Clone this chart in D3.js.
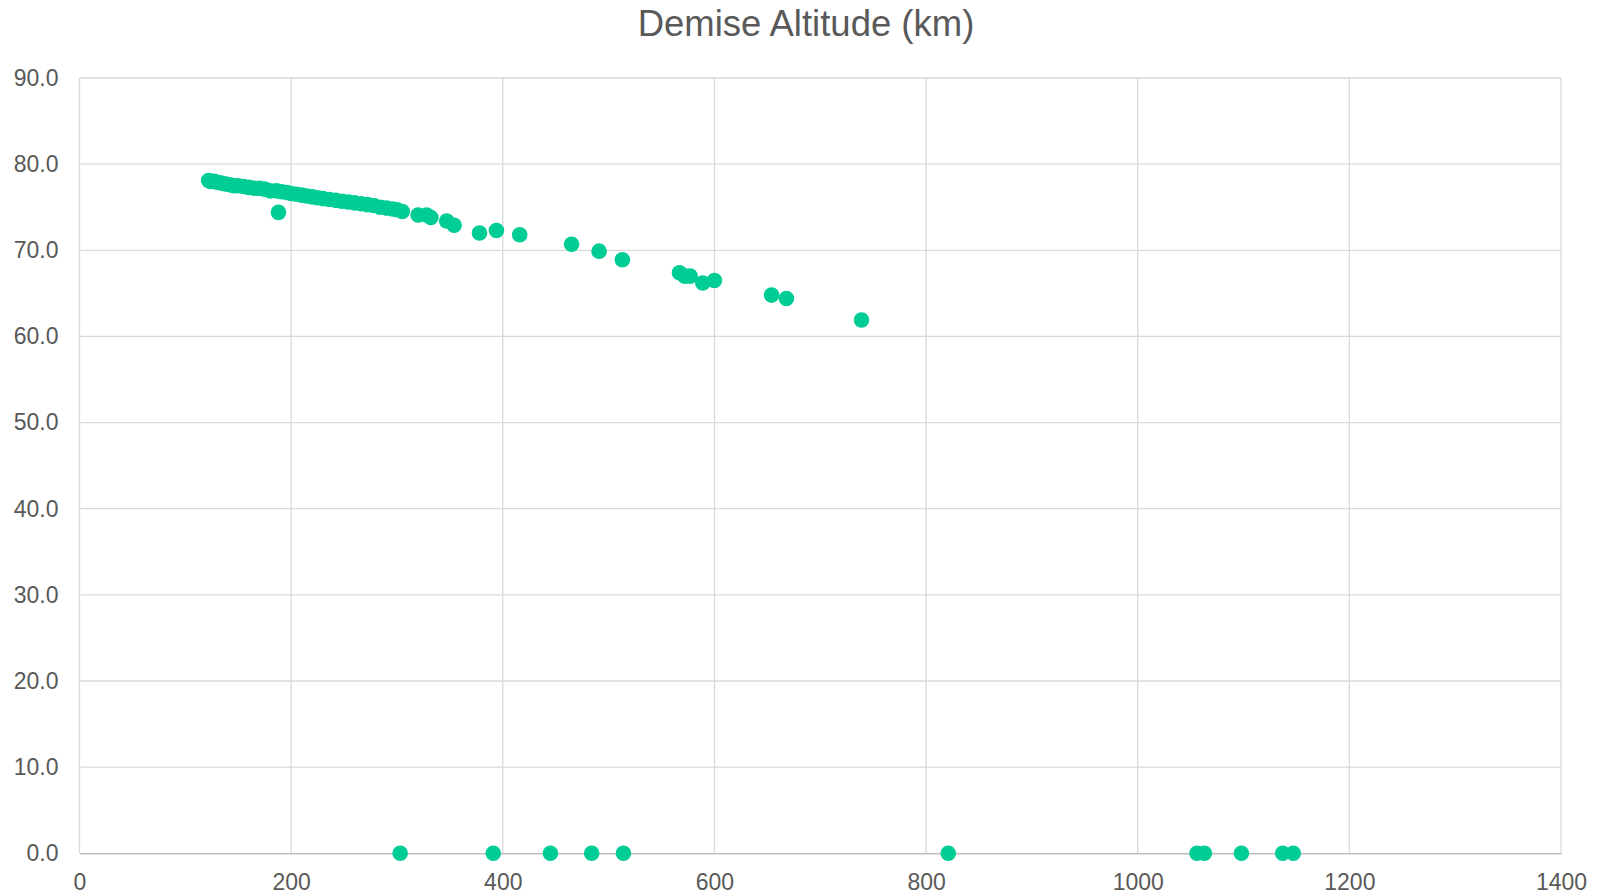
<!DOCTYPE html>
<html>
<head>
<meta charset="utf-8">
<script src="https://cdn.jsdelivr.net/npm/d3@7"></script>
<style>
  html, body { margin: 0; padding: 0; background: #fff; }
  svg { display: block; }
</style>
</head>
<body>
<svg id="chart" width="1599" height="894"></svg>
<script>
// ---- data ----
const chartTitle = "Demise Altitude (km)";
const xTicks = [0, 200, 400, 600, 800, 1000, 1200, 1400];
const yTicks = [0, 10, 20, 30, 40, 50, 60, 70, 80, 90];

// dense upper cluster (x, demise altitude)
const clusterX = [122, 124, 127, 130, 134, 138, 142, 146, 150, 155, 160, 165, 170, 175, 180, 186, 191, 196, 200, 205, 210, 215, 220, 225, 230, 236, 242, 248, 254, 260, 266, 272, 278, 284, 290, 296, 300, 305];
const clusterY = [78.1, 78.0, 78.0, 77.9, 77.8, 77.7, 77.6, 77.5, 77.5, 77.4, 77.3, 77.2, 77.2, 77.1, 76.9, 76.9, 76.8, 76.7, 76.6, 76.5, 76.4, 76.3, 76.2, 76.1, 76.0, 75.9, 75.8, 75.7, 75.6, 75.5, 75.4, 75.3, 75.2, 75.0, 74.9, 74.8, 74.7, 74.5];

// sparser upper points
const upperX = [188, 320, 328, 332, 347, 354, 378, 394, 416, 465, 491, 513, 567, 572, 577, 589, 600, 654, 668, 739];
const upperY = [74.4, 74.1, 74.1, 73.8, 73.4, 72.9, 72.0, 72.3, 71.8, 70.7, 69.9, 68.9, 67.4, 67.0, 67.0, 66.2, 66.5, 64.8, 64.4, 61.9];

// objects surviving to ground
const groundX = [303, 391, 445, 484, 514, 821, 1056, 1063, 1098, 1137, 1147];
const groundY = [0, 0, 0, 0, 0, 0, 0, 0, 0, 0, 0];

// ---- chart ----
const svg = d3.select("#chart");
const plot = { left: 79.5, right: 1561, top: 78, bottom: 853.3 };

const x = d3.scaleLinear().domain([0, 1400]).range([plot.left, plot.right]);
const y = d3.scaleLinear().domain([0, 90]).range([plot.bottom, plot.top]);

const font = "'Liberation Sans', Arial, sans-serif";
const textColor = "#595959";
const gridColor = "#D9D9D9";
const dotColor = "#00CC96";

// title
svg.append("text")
  .attr("x", 806).attr("y", 36)
  .attr("text-anchor", "middle")
  .attr("font-family", font).attr("font-size", 36.5)
  .attr("fill", textColor)
  .text(chartTitle);

// gridlines (vertical)
svg.append("g")
  .selectAll("line").data(xTicks).join("line")
  .attr("x1", d => x(d)).attr("x2", d => x(d))
  .attr("y1", plot.top).attr("y2", plot.bottom)
  .attr("stroke", gridColor).attr("stroke-width", 1.3);

// gridlines (horizontal)
svg.append("g")
  .selectAll("line").data(yTicks.filter(d => d > 0)).join("line")
  .attr("x1", plot.left).attr("x2", plot.right)
  .attr("y1", d => y(d)).attr("y2", d => y(d))
  .attr("stroke", gridColor).attr("stroke-width", 1.3);

// x axis
const xAxis = d3.axisBottom(x).tickValues(xTicks).tickFormat(d3.format("d")).tickSize(0).tickPadding(20);
const gx = svg.append("g").attr("transform", `translate(0,${plot.bottom})`).call(xAxis);
gx.select(".domain").attr("stroke", "#BFBFBF").attr("stroke-width", 1.5);
gx.selectAll("text").attr("font-family", font).attr("font-size", 23).attr("fill", textColor);

// y axis
const yAxis = d3.axisLeft(y).tickValues(yTicks).tickFormat(d3.format(".1f")).tickSize(0).tickPadding(21);
const gy = svg.append("g").attr("transform", `translate(${plot.left},0)`).call(yAxis);
gy.select(".domain").remove();
gy.selectAll("text").attr("font-family", font).attr("font-size", 23).attr("fill", textColor);

// points
const pts = [];
clusterX.forEach((v, i) => pts.push([v, clusterY[i]]));
upperX.forEach((v, i) => pts.push([v, upperY[i]]));
groundX.forEach((v, i) => pts.push([v, groundY[i]]));

svg.append("g")
  .selectAll("circle").data(pts).join("circle")
  .attr("cx", d => x(d[0])).attr("cy", d => y(d[1]))
  .attr("r", 7.8)
  .attr("fill", dotColor);
</script>
</body>
</html>
